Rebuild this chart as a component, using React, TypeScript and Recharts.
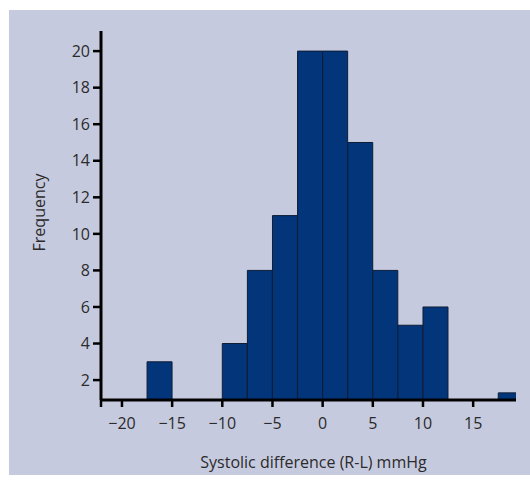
import { BarChart, Bar, XAxis, YAxis } from "recharts";

// bin centres (2.5 mmHg bins) and counts; null = empty bin
const BIN_CENTERS = [-16.25, -13.75, -11.25, -8.75, -6.25, -3.75, -1.25, 1.25, 3.75, 6.25, 8.75, 11.25, 13.75, 16.25, 18.75];
const COUNTS = [3, null, null, 4, 8, 11, 20, 20, 15, 8, 5, 6, null, null, 1.3];
const X_TICKS = [-22.09, -20, -15, -10, -5, 0, 5, 10, 15];
const Y_TICKS = [2, 4, 6, 8, 10, 12, 14, 16, 18, 20];

const data = BIN_CENTERS.map((x, i) => ({ x, count: COUNTS[i] }));

const FONT = "'Open Sans', sans-serif";
const TEXT = "#2b2b2b";

const fmtX = (v: number) => {
  if (v < -21) return "";
  return v < 0 ? `\u2212${Math.abs(v)}` : `${v}`;
};

export default function App() {
  return (
    <div style={{ position: "absolute", left: 0, top: 0, width: 530, height: 485, background: "#fff" }}>
      <div style={{ position: "absolute", left: 9, top: 10, width: 521, height: 465, background: "#c6cadf" }}>
        <BarChart
          width={521}
          height={465}
          data={data}
          margin={{ top: 21, right: 14, left: 0, bottom: 0 }}
          barCategoryGap={0}
          barGap={0}
          style={{ fontFamily: FONT }}
        >
          <XAxis
            dataKey="x"
            type="number"
            domain={[-22.09, 19.27]}
            allowDataOverflow
            ticks={X_TICKS}
            tickFormatter={fmtX}
            interval={0}
            height={75}
            tickSize={7}
            tickMargin={11}
            axisLine={{ stroke: "#000", strokeWidth: 3 }}
            tickLine={{ stroke: "#000", strokeWidth: 2.5 }}
            tick={{ fill: TEXT, fontSize: 16, fontFamily: FONT }}
            label={{ value: "Systolic difference (R-L) mmHg", position: "center", dx: 5, dy: 25, fill: TEXT, fontSize: 16, fontFamily: FONT }}
          />
          <YAxis
            type="number"
            domain={[0.91, 21.1]}
            allowDataOverflow
            ticks={Y_TICKS}
            interval={0}
            width={92}
            tickSize={8}
            tickMargin={3}
            axisLine={{ stroke: "#000", strokeWidth: 3 }}
            tickLine={{ stroke: "#000", strokeWidth: 2.5 }}
            tick={{ fill: TEXT, fontSize: 16, fontFamily: FONT }}
            label={{ value: "Frequency", angle: -90, position: "center", dx: -16, dy: -3, fill: TEXT, fontSize: 16, fontFamily: FONT }}
          />
          <Bar dataKey="count" fill="#03357a" stroke="#0f1d36" strokeWidth={1} isAnimationActive={false} />
        </BarChart>
      </div>
    </div>
  );
}
